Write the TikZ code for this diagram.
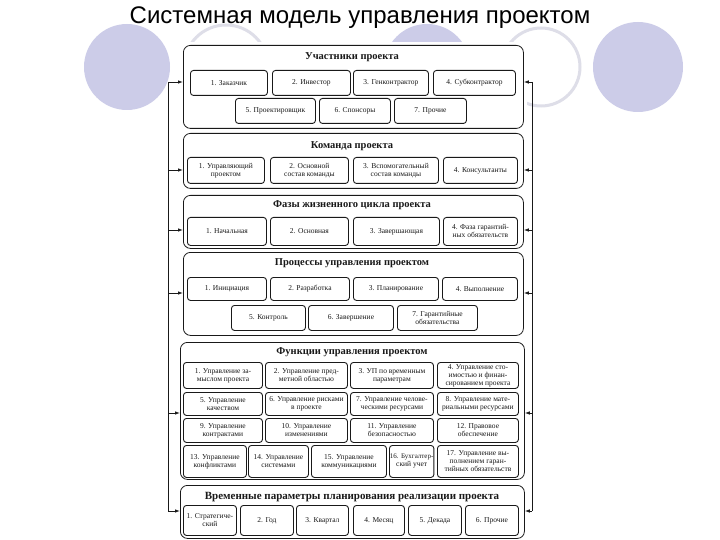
\documentclass[tikz,border=0pt]{standalone}
\usepackage{fontspec}
\setmainfont{Liberation Serif}
\newfontfamily\ttlfont{Liberation Sans}
\usetikzlibrary{arrows.meta}
\definecolor{lav}{RGB}{204,204,232}
\definecolor{lavline}{RGB}{222,222,232}
\definecolor{ink}{RGB}{25,25,25}
\tikzset{
 grp/.style={draw=ink, line width=0.8pt, rounded corners=7pt, fill=white, anchor=north west, inner sep=0pt},
 bx/.style={draw=ink, line width=0.9pt, rounded corners=3pt, anchor=north west, align=center, inner sep=0.5pt, font=\fontsize{7.5}{8}\selectfont, text=ink},
 gtitle/.style={font=\bfseries\fontsize{10.5}{11}\selectfont, text=ink, inner sep=0pt},
 feed/.style={draw=ink, line width=0.8pt, -{Latex[length=5pt,width=3.5pt]}},
 bus/.style={draw=ink, line width=0.8pt},
 disc/.style={fill=lav},
 ring/.style={draw=lavline, line width=3pt}
}
\newcommand\G[5]{\node[grp, minimum width={#4-#2}, minimum height={#5-#3}] (#1) at (#2,#3) {};}
\newcommand\B[6]{\node[bx, minimum width={#4-#2}, minimum height={#5-#3}] (#1) at (#2,#3) {#6};}
\begin{document}
\begin{tikzpicture}[x=1pt,y=-1pt]
\useasboundingbox[fill=white] (0,0) rectangle (720,540);
% background circles
\fill[disc] (127,67) circle (43);
\draw[ring] (226,67) circle (42);
\fill[disc] (427,67) circle (43);
\draw[ring] (541,67) circle (39);
\fill[disc] (638,67) circle (45);
\fill[white] (172,42) rectangle (527,540);
% title
\node[font=\ttlfont\fontsize{24}{27}\selectfont] (title) at (360,18) {Системная модель управления проектом};
% group 1
\G{g1}{183}{45}{523}{128}
\node[gtitle] (t1) at (352,57) {Участники проекта};
\B{a1}{190}{70}{267}{95}{1. Заказчик}
\B{a2}{272}{70}{350}{95}{2. Инвестор}
\B{a3}{353}{70}{428}{95}{3. Генконтрактор}
\B{a4}{433}{70}{515}{95}{4. Субконтрактор}
\B{a5}{235}{98}{315}{123}{5. Проектировщик}
\B{a6}{319}{98}{390}{123}{6. Спонсоры}
\B{a7}{394}{98}{466}{123}{7. Прочие}
% group 2
\G{g2}{183}{133}{523}{188}
\node[gtitle] (t2) at (352,146) {Команда проекта};
\B{b1}{187}{157}{264}{183}{1. Управляющий\\проектом}
\B{b2}{270}{157}{348}{183}{2. Основной\\состав команды}
\B{b3}{353}{157}{438}{183}{3. Вспомогательный\\состав команды}
\B{b4}{443}{157}{517}{183}{4. Консультанты}
% group 3
\G{g3}{183}{195}{523}{248}
\node[gtitle] (t3) at (352,205) {Фазы жизненного цикла проекта};
\B{c1}{187}{217}{266}{245}{1. Начальная}
\B{c2}{270}{217}{348}{245}{2. Основная}
\B{c3}{353}{217}{439}{245}{3. Завершающая}
\B{c4}{443}{217}{517}{245}{4. Фаза гарантий-\\ных обязательств}
% group 4
\G{g4}{183}{252}{523}{335}
\node[gtitle] (t4) at (352,263) {Процессы управления проектом};
\B{d1}{187}{277}{266}{300}{1. Инициация}
\B{d2}{270}{277}{349}{300}{2. Разработка}
\B{d3}{353}{277}{438}{300}{3. Планирование}
\B{d4}{442}{277}{517}{300}{4. Выполнение}
\B{d5}{231}{305}{305}{330}{5. Контроль}
\B{d6}{308}{305}{393}{330}{6. Завершение}
\B{d7}{397}{305}{477}{330}{7. Гарантийные\\обязательства}
% group 5
\G{g5}{180}{342}{524}{479}
\node[gtitle] (t5) at (352,352) {Функции управления проектом};
\B{e1}{183}{362}{262}{388}{1. Управление за-\\мыслом проекта}
\B{e2}{265}{362}{347}{388}{2. Управление пред-\\метной областью}
\B{e3}{350}{362}{433}{388}{3. УП по временным\\параметрам}
\B{e4}{437}{362}{518}{388}{4. Управление сто-\\имостью и финан-\\сированием проекта}
\B{e5}{183}{392}{262}{415}{5. Управление\\качеством}
\B{e6}{265}{392}{347}{415}{6. Управление рисками\\в проекте}
\B{e7}{350}{392}{433}{415}{7. Управление челове-\\ческими ресурсами}
\B{e8}{437}{392}{518}{415}{8. Управление мате-\\риальными ресурсами}
\B{e9}{183}{418}{262}{442}{9. Управление\\контрактами}
\B{e10}{265}{418}{347}{442}{10. Управление\\изменениями}
\B{e11}{350}{418}{433}{442}{11. Управление\\безопасностью}
\B{e12}{437}{418}{518}{442}{12. Правовое\\обеспечение}
\B{e13}{183}{445}{246}{477}{13. Управление\\конфликтами}
\B{e14}{248}{445}{308}{477}{14. Управление\\системами}
\B{e15}{311}{445}{386}{477}{15. Управление\\коммуникациями}
\B{e16}{389}{445}{433}{477}{\fontsize{7}{7.5}\selectfont 16. Бухгалтер-\\ский учет}
\B{e17}{437}{445}{518}{477}{17. Управление вы-\\полнением гаран-\\тийных обязательств}
% group 6
\G{g6}{180}{485}{524}{538}
\node[gtitle, font=\bfseries\fontsize{11}{12}\selectfont] (t6) at (352,497) {Временные параметры планирования реализации проекта};
\B{f1}{183}{505}{236}{535}{1. Стратегиче-\\ский}
\B{f2}{240}{505}{293}{535}{2. Год}
\B{f3}{296}{505}{348}{535}{3. Квартал}
\B{f4}{353}{505}{404}{535}{4. Месяц}
\B{f5}{408}{505}{461}{535}{5. Декада}
\B{f6}{465}{505}{518}{535}{6. Прочие}
% feedback buses
\coordinate (L1) at (168,82);  \coordinate (R1) at (532,82);
\coordinate (L2) at (168,170); \coordinate (R2) at (532,170);
\coordinate (L3) at (168,230); \coordinate (R3) at (532,230);
\coordinate (L4) at (168,293); \coordinate (R4) at (532,293);
\coordinate (L5) at (168,413); \coordinate (R5) at (532,413);
\coordinate (L6) at (168,511); \coordinate (R6) at (532,511);
\draw[bus] (L1) -- (L6);
\draw[bus] (R1) -- (R6);
\foreach \i in {1,...,6}{
  \draw[feed] (L\i) -- (L\i -| g\i.west);
  \draw[feed] (R\i) -- (R\i -| g\i.east);
}
\end{tikzpicture}
\end{document}
